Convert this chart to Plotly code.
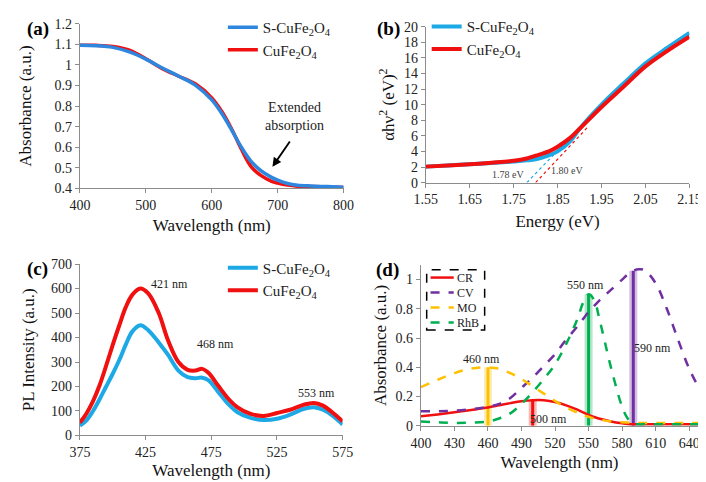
import plotly.graph_objects as go

# ---- (a) UV-vis absorbance ----
A_WL = [400, 425, 450, 475, 500, 525, 550, 575, 600, 615, 630, 645, 660, 675, 690, 700, 715, 730, 750, 775, 800]
A_S = [1.095, 1.093, 1.085, 1.063, 1.028, 0.985, 0.945, 0.902, 0.830, 0.765, 0.685, 0.600, 0.530, 0.485, 0.455, 0.440, 0.424, 0.416, 0.412, 0.409, 0.406]
A_C = [1.095, 1.095, 1.090, 1.072, 1.030, 0.982, 0.945, 0.908, 0.840, 0.775, 0.690, 0.590, 0.505, 0.462, 0.436, 0.426, 0.416, 0.411, 0.409, 0.407, 0.405]

# ---- (b) Tauc plot ----
B_E = [1.55, 1.60, 1.65, 1.70, 1.75, 1.78, 1.80, 1.83, 1.85, 1.88, 1.90, 1.95, 2.00, 2.05, 2.10, 2.15]
B_S = [2.05, 2.2, 2.35, 2.5, 2.7, 2.85, 3.0, 3.5, 4.0, 5.4, 6.9, 10.0, 12.7, 15.3, 17.3, 19.2]
B_C = [2.05, 2.2, 2.35, 2.55, 2.8, 3.1, 3.45, 4.0, 4.6, 5.8, 6.9, 9.7, 12.3, 14.9, 16.9, 18.7]
TAN_S_X, TAN_S_Y = [1.78, 1.90], [0.0, 7.0]
TAN_C_X, TAN_C_Y = [1.80, 1.92], [0.0, 7.2]

# ---- (c) PL spectra ----
C_WL = [375, 380, 385, 390, 395, 400, 405, 410, 415, 421, 427, 435, 442, 450, 457, 463, 468, 473, 480, 488, 495, 505, 515, 525, 535, 545, 553, 560, 567, 575]
C_S = [40, 62, 100, 148, 200, 252, 308, 372, 425, 450, 430, 380, 330, 265, 238, 234, 236, 225, 180, 128, 95, 72, 63, 68, 85, 108, 115, 105, 82, 45]
C_C = [52, 90, 140, 205, 285, 370, 450, 525, 575, 600, 580, 500, 390, 300, 268, 265, 272, 255, 205, 150, 115, 88, 80, 92, 105, 125, 133, 122, 95, 58]

# ---- (d) dye absorbance ----
D_WL = [400, 415, 430, 445, 460, 470, 480, 490, 500, 510, 520, 530, 540, 545, 550, 555, 560, 570, 580, 585, 590, 595, 600, 610, 620, 630, 640, 648]
D_CR = [0.065, 0.078, 0.092, 0.108, 0.125, 0.140, 0.155, 0.168, 0.175, 0.175, 0.163, 0.140, 0.110, 0.092, 0.075, 0.060, 0.048, 0.030, 0.017, 0.012, 0.010, 0.010, 0.010, 0.010, 0.010, 0.010, 0.010, 0.010]
D_CV = [0.100, 0.100, 0.103, 0.113, 0.130, 0.150, 0.190, 0.260, 0.330, 0.410, 0.490, 0.590, 0.680, 0.730, 0.780, 0.820, 0.860, 0.930, 1.000, 1.035, 1.060, 1.070, 1.065, 0.975, 0.800, 0.590, 0.390, 0.270]
D_MO = [0.265, 0.315, 0.360, 0.392, 0.400, 0.390, 0.360, 0.320, 0.270, 0.220, 0.170, 0.125, 0.090, 0.075, 0.062, 0.050, 0.042, 0.030, 0.024, 0.022, 0.020, 0.020, 0.020, 0.020, 0.020, 0.020, 0.020, 0.020]
D_RHB = [0.030, 0.024, 0.020, 0.022, 0.030, 0.050, 0.085, 0.150, 0.230, 0.320, 0.420, 0.560, 0.730, 0.840, 0.900, 0.860, 0.720, 0.400, 0.130, 0.050, 0.015, 0.010, 0.010, 0.010, 0.010, 0.010, 0.010, 0.010]
D_NAMES = ["CR", "CV", "MO", "RhB"]
PEAK_WL = [500, 590, 460, 550]
PEAK_ABS = [0.175, 1.060, 0.400, 0.900]

BLUE = "#2E86DE"
LBLUE = "#1CA9E6"
RED = "#F01010"
PURPLE = "#7030A0"
ORANGE = "#FFC000"
GREEN = "#00B050"
SERIF = "Liberation Serif"

S_NAME = "S-CuFe<sub>2</sub>O<sub>4</sub>"
C_NAME = "CuFe<sub>2</sub>O<sub>4</sub>"

W, H = 706, 482

fig = go.Figure()

# (a)
fig.add_trace(go.Scatter(x=A_WL, y=A_C, name=C_NAME, mode="lines", line=dict(color=RED, width=3.5, shape="spline"),
                         xaxis="x", yaxis="y", legend="legend", legendrank=2))
fig.add_trace(go.Scatter(x=A_WL, y=A_S, name=S_NAME, mode="lines", line=dict(color=BLUE, width=3.5, shape="spline"),
                         xaxis="x", yaxis="y", legend="legend", legendrank=1))

# (b)
fig.add_trace(go.Scatter(x=TAN_S_X, y=TAN_S_Y, mode="lines", showlegend=False,
                         line=dict(color=LBLUE, width=1.2, dash="dot"), xaxis="x2", yaxis="y2"))
fig.add_trace(go.Scatter(x=TAN_C_X, y=TAN_C_Y, mode="lines", showlegend=False,
                         line=dict(color=RED, width=1.2, dash="dot"), xaxis="x2", yaxis="y2"))
fig.add_trace(go.Scatter(x=B_E, y=B_S, name=S_NAME, mode="lines", line=dict(color=LBLUE, width=4, shape="spline"),
                         xaxis="x2", yaxis="y2", legend="legend2", legendrank=1))
fig.add_trace(go.Scatter(x=B_E, y=B_C, name=C_NAME, mode="lines", line=dict(color=RED, width=4, shape="spline"),
                         xaxis="x2", yaxis="y2", legend="legend2", legendrank=2))

# (c)
fig.add_trace(go.Scatter(x=C_WL, y=C_S, name=S_NAME, mode="lines", line=dict(color=LBLUE, width=4, shape="spline"),
                         xaxis="x3", yaxis="y3", legend="legend3", legendrank=1))
fig.add_trace(go.Scatter(x=C_WL, y=C_C, name=C_NAME, mode="lines", line=dict(color=RED, width=4, shape="spline"),
                         xaxis="x3", yaxis="y3", legend="legend3", legendrank=2))

# (d) peak markers (glow + core)
peak_cols = [RED, PURPLE, ORANGE, GREEN]
for wl, ab, col in zip(PEAK_WL, PEAK_ABS, peak_cols):
    fig.add_trace(go.Scatter(x=[wl, wl], y=[0, ab], mode="lines", showlegend=False, opacity=0.3,
                             line=dict(color=col, width=8), xaxis="x4", yaxis="y4"))
    fig.add_trace(go.Scatter(x=[wl, wl], y=[0, ab], mode="lines", showlegend=False,
                             line=dict(color=col, width=3), xaxis="x4", yaxis="y4"))

d_styles = [(RED, "solid"), (PURPLE, "dash"), (ORANGE, "dash"), (GREEN, "dash")]
for name, ys, (col, dash) in zip(D_NAMES, [D_CR, D_CV, D_MO, D_RHB], d_styles):
    fig.add_trace(go.Scatter(x=D_WL, y=ys, name=name, mode="lines", showlegend=False,
                             line=dict(color=col, width=2.5, dash=dash, shape="spline"),
                             xaxis="x4", yaxis="y4"))


def dom_x(a, b):
    return [a / W, b / W]


def dom_y(top, bottom):
    return [1 - bottom / H, 1 - top / H]


axis_common = dict(showline=True, linecolor="#8c8c8c", linewidth=1, showgrid=False, zeroline=False,
                   ticks="outside", ticklen=4, tickcolor="#8c8c8c", mirror=False,
                   tickfont=dict(family=SERIF, size=14, color="#222"))
title_font = dict(family=SERIF, size=17, color="#111")

legend_common = dict(font=dict(family=SERIF, size=15, color="#222"), bgcolor="rgba(0,0,0,0)",
                     tracegroupgap=0, itemwidth=30, traceorder="normal")

fig.update_layout(
    width=W, height=H,
    margin=dict(l=0, r=0, t=0, b=0),
    paper_bgcolor="white", plot_bgcolor="white",
    xaxis=dict(domain=dom_x(62, 335), range=[400, 800], dtick=100, anchor="y",
               title=dict(text="Wavelength (nm)", font=title_font, standoff=6), **axis_common),
    yaxis=dict(domain=dom_y(9, 179), range=[0.4, 1.2], dtick=0.1, anchor="x",
               title=dict(text="Absorbance (a.u.)", font=title_font, standoff=18), **axis_common),
    xaxis2=dict(domain=dom_x(420, 693), range=[1.55, 2.15], tick0=1.55, dtick=0.1, anchor="y2", tickformat=".2f",
                title=dict(text="Energy (eV)", font=title_font, standoff=8), **axis_common),
    yaxis2=dict(domain=dom_y(12, 173), range=[0, 20], dtick=2, anchor="x2",
                title=dict(text="αhν<sup>2</sup> (eV)<sup>2</sup>", font=title_font, standoff=4), **axis_common),
    xaxis3=dict(domain=dom_x(62, 334), range=[375, 575], tick0=375, dtick=50, anchor="y3",
                title=dict(text="Wavelength (nm)", font=title_font, standoff=4), **axis_common),
    yaxis3=dict(domain=dom_y(257, 434), range=[0, 700], dtick=100, anchor="x3",
                title=dict(text="PL Intensity (a.u.)", font=title_font, standoff=12), **axis_common),
    xaxis4=dict(domain=dom_x(415, 702), range=[400, 648], tick0=400, dtick=30, anchor="y4",
                title=dict(text="Wavelength (nm)", font=title_font, standoff=6), **axis_common),
    yaxis4=dict(domain=dom_y(258, 424), range=[0, 1.1], tickvals=[0, 0.2, 0.4, 0.6, 0.8, 1.0], anchor="x4",
                title=dict(text="Absorbance (a.u.)", font=title_font, standoff=4), **axis_common),
    legend=dict(x=210 / W, y=1 + 4 / H, xanchor="left", yanchor="top", **legend_common),
    legend2=dict(x=421 / W, y=1 + 5 / H, xanchor="left", yanchor="top", **legend_common),
    legend3=dict(x=210 / W, y=1 - 244 / H, xanchor="left", yanchor="top", **legend_common),
)

# (d) compact legend box with dashed border
fig.add_shape(type="rect", xref="paper", yref="paper", x0=421 / W, x1=481 / W, y0=1 - 325 / H, y1=1 - 263 / H,
              line=dict(color="black", width=1.5, dash="dash"), fillcolor="white", layer="above")
for i, (name, (col, dash)) in enumerate(zip(D_NAMES, d_styles)):
    yy = 1 - (271 + 15.5 * i) / H
    fig.add_shape(type="line", xref="paper", yref="paper", x0=425 / W, x1=449 / W, y0=yy, y1=yy,
                  line=dict(color=col, width=2.5, dash=dash), layer="above")
    fig.add_annotation(x=450 / W, y=yy, xref="paper", yref="paper", text=name, showarrow=False,
                       xanchor="left", yanchor="middle", font=dict(family=SERIF, size=12, color="#222"))

annots = [
    dict(text="<b>(a)</b>", x=19 / W, y=1 - 14 / H),
    dict(text="<b>(b)</b>", x=381 / W, y=1 - 14 / H),
    dict(text="<b>(c)</b>", x=18 / W, y=1 - 262 / H),
    dict(text="<b>(d)</b>", x=380 / W, y=1 - 263 / H),
]
for a in annots:
    fig.add_annotation(xref="paper", yref="paper", showarrow=False, font=dict(family=SERIF, size=19, color="black"),
                       xanchor="center", yanchor="middle", **a)

# (a) arrow annotation
fig.add_annotation(x=692, y=0.505, xref="x", yref="y", ax=720, ay=0.635, axref="x", ayref="y",
                   text="", showarrow=True, arrowhead=2, arrowsize=1, arrowwidth=1.8, arrowcolor="black")
fig.add_annotation(x=284 / W, y=1 - 105 / H, xref="paper", yref="paper", showarrow=False,
                   xanchor="center", yanchor="middle",
                   text="Extended<br>absorption", font=dict(family=SERIF, size=14, color="#222"))

# (b) band gap labels
small = dict(family=SERIF, size=10, color="#444")
fig.add_annotation(x=1.737, y=1.1, xref="x2", yref="y2", text="1.78 eV", showarrow=False, font=small)
fig.add_annotation(x=1.872, y=1.6, xref="x2", yref="y2", text="1.80 eV", showarrow=False, font=small)

# (c) peak labels
mid = dict(family=SERIF, size=12, color="#222")
fig.add_annotation(x=443, y=617, xref="x3", yref="y3", text="421 nm", showarrow=False, font=mid)
fig.add_annotation(x=478, y=372, xref="x3", yref="y3", text="468 nm", showarrow=False, font=mid)
fig.add_annotation(x=555, y=174, xref="x3", yref="y3", text="553 nm", showarrow=False, font=mid)

# (d) peak labels
for x, y, t in [(454, 0.46, "460 nm"), (547, 0.96, "550 nm"), (607, 0.53, "590 nm"), (514, 0.045, "500 nm")]:
    fig.add_annotation(x=x, y=y, xref="x4", yref="y4", text=t, showarrow=False, font=mid)

fig.write_html("out.html")
